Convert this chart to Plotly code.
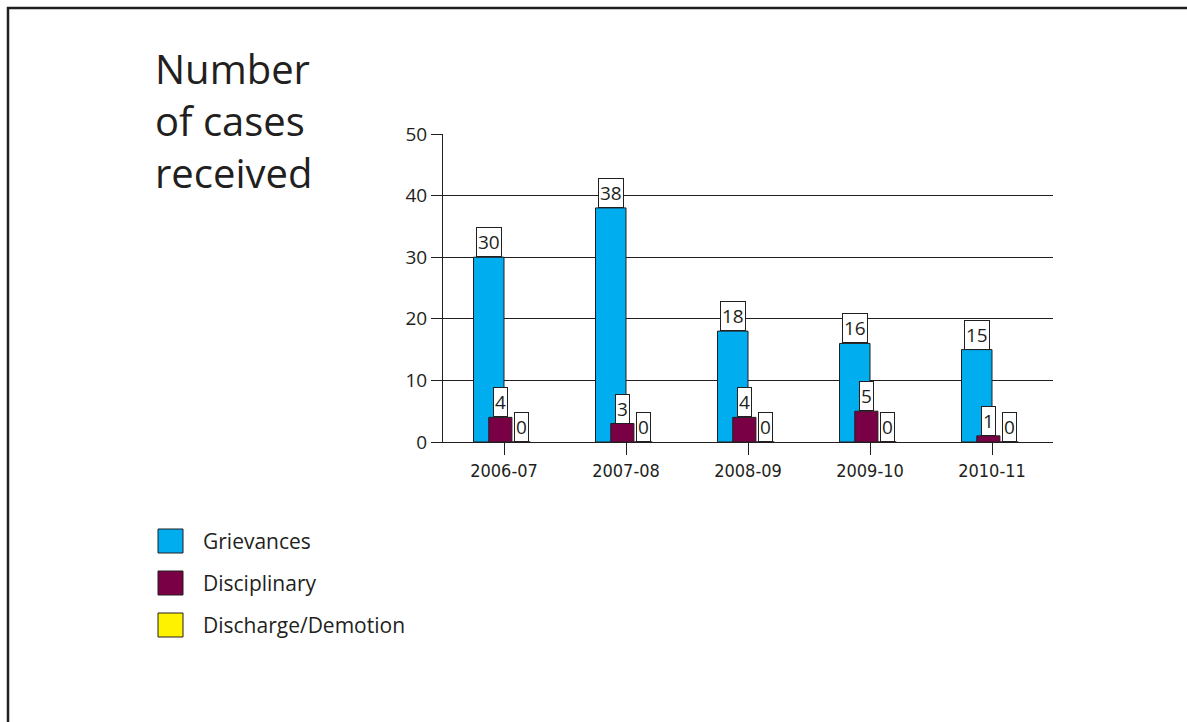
import plotly.graph_objects as go

years = ["2006-07", "2007-08", "2008-09", "2009-10", "2010-11"]
grievances = [30, 38, 18, 16, 15]
disciplinary = [4, 3, 4, 5, 1]
discharge = [0, 0, 0, 0, 0]
series_names = ["Grievances", "Disciplinary", "Discharge/Demotion"]
series_colors = ["#00AEEF", "#7A0046", "#FFF200"]
y_ticks = [0, 10, 20, 30, 40, 50]

W, H = 1187, 722
L, R, T, B = 443, 134, 134, 280
PW, PH = W - L - R, H - T - B
DARK = "#231F20"

def px_x(p):
    return (p - L) / PW

def px_y(p):
    return (H - B - p) / PH

# bar geometry in category units (offset, width)
geom = [(-0.25, 0.25), (-0.125, 0.19), (0.065, 0.15)]
series = [grievances, disciplinary, discharge]

fig = go.Figure()
for vals, name, col, (off, wid) in zip(series, series_names, series_colors, geom):
    fig.add_trace(go.Bar(
        x=years, y=vals, name=name, offset=off, width=wid,
        marker=dict(color=col, line=dict(color=DARK, width=1)),
        showlegend=False,
    ))

annotations = []
label_font = dict(family="Open Sans, sans-serif", size=19, color=DARK)
for vals, (off, wid) in zip(series, geom):
    for i, v in enumerate(vals):
        annotations.append(dict(
            x=i + off + wid / 2, y=v, xref="x", yref="y",
            text=str(v), showarrow=False, yanchor="bottom", xanchor="center",
            font=label_font, bgcolor="white", bordercolor=DARK,
            borderwidth=1, borderpad=1,
        ))

# title
annotations.append(dict(
    x=px_x(153), y=px_y(39), xref="paper", yref="paper",
    text="Number<br>of cases<br>received", showarrow=False,
    xanchor="left", yanchor="top", align="left",
    font=dict(family="Open Sans, sans-serif", size=40, color=DARK),
))

shapes = []
# frame lines
shapes.append(dict(type="line", xref="paper", yref="paper",
                   x0=px_x(7), x1=px_x(W + 5), y0=px_y(8), y1=px_y(8),
                   line=dict(color=DARK, width=2.5)))
shapes.append(dict(type="line", xref="paper", yref="paper",
                   x0=px_x(8), x1=px_x(8), y0=px_y(7), y1=px_y(H + 5),
                   line=dict(color=DARK, width=2.5)))

# manual legend
leg_y = [541, 583, 625]
for name, col, yc in zip(series_names, series_colors, leg_y):
    shapes.append(dict(type="rect", xref="paper", yref="paper",
                       x0=px_x(158), x1=px_x(183), y0=px_y(yc - 12), y1=px_y(yc + 12),
                       fillcolor=col, line=dict(color=DARK, width=1)))
    annotations.append(dict(
        x=px_x(201), y=px_y(yc), xref="paper", yref="paper", text=name,
        showarrow=False, xanchor="left", yanchor="middle",
        font=dict(family="Open Sans, sans-serif", size=21, color=DARK),
    ))

fig.update_layout(
    width=W, height=H,
    margin=dict(l=L, r=R, t=T, b=B, pad=0),
    paper_bgcolor="white", plot_bgcolor="white",
    barmode="overlay",
    showlegend=False,
    xaxis=dict(
        type="category", range=[-0.5, 4.5],
        showline=True, linecolor=DARK, linewidth=1,
        ticks="outside", ticklen=12, tickcolor=DARK, tickwidth=1,
        showgrid=False, zeroline=False,
        tickfont=dict(family="DejaVu Sans Condensed, Liberation Sans Narrow, sans-serif", size=18, color=DARK),
    ),
    yaxis=dict(
        range=[0, 50], tickvals=y_ticks,
        showline=True, linecolor=DARK, linewidth=1,
        ticks="outside", ticklen=11, tickcolor=DARK, tickwidth=1,
        showgrid=True, gridcolor=DARK, gridwidth=1, zeroline=False,
        tickfont=dict(family="Open Sans, sans-serif", size=19, color=DARK),
    ),
    annotations=annotations,
    shapes=shapes,
)

fig.write_html("out.html", config={"displayModeBar": False},
               post_script="document.body.style.margin='0px';")
